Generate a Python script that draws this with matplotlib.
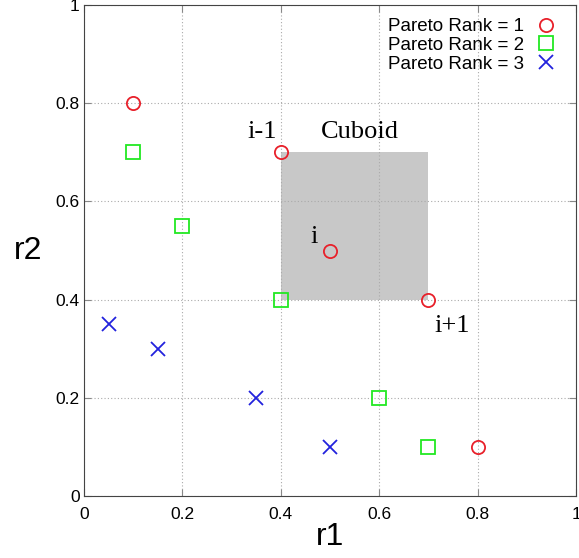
import matplotlib.pyplot as plt
from matplotlib.patches import Rectangle

# Pareto front points (r1, r2)
rank1_r1 = [0.1, 0.4, 0.5, 0.7, 0.8]
rank1_r2 = [0.8, 0.7, 0.5, 0.4, 0.1]
rank2_r1 = [0.1, 0.2, 0.4, 0.6, 0.7]
rank2_r2 = [0.7, 0.55, 0.4, 0.2, 0.1]
rank3_r1 = [0.05, 0.15, 0.35, 0.5]
rank3_r2 = [0.35, 0.3, 0.2, 0.1]

# cuboid spanned by neighbours i-1 and i+1
cuboid_lo = (0.4, 0.4)
cuboid_hi = (0.7, 0.7)

ticks = [0, 0.2, 0.4, 0.6, 0.8, 1]
tick_labels = ['0', '0.2', '0.4', '0.6', '0.8', '1']

plt.rcParams['font.family'] = ['Liberation Sans', 'DejaVu Sans']

fig = plt.figure(figsize=(5.79, 5.58), dpi=100)
ax = fig.add_axes([0.145, 0.111, 0.85, 0.880])

ax.add_patch(Rectangle(cuboid_lo, cuboid_hi[0] - cuboid_lo[0], cuboid_hi[1] - cuboid_lo[1],
                       facecolor='#c8c8c8', edgecolor='none', zorder=1))

ax.plot(rank1_r1, rank1_r2, 'o', mfc='none', mec='#e8202a', ms=9.5, mew=1.3,
        ls='none', label='Pareto Rank = 1', zorder=3)
ax.plot(rank2_r1, rank2_r2, 's', mfc='none', mec='#22e822', ms=9.5, mew=1.3,
        ls='none', label='Pareto Rank = 2', zorder=3)
ax.plot(rank3_r1, rank3_r2, 'x', color='#2222dd', ms=10, mew=1.3,
        ls='none', label='Pareto Rank = 3', zorder=3)

serif = ['Liberation Serif', 'DejaVu Serif']
ax.text(0.561, 0.73, 'Cuboid', family=serif, fontsize=19, ha='center', va='baseline')
ax.text(0.362, 0.73, 'i-1', family=serif, fontsize=19, ha='center', va='baseline')
ax.text(0.468, 0.516, 'i', family=serif, fontsize=19, ha='center', va='baseline')
ax.text(0.748, 0.335, 'i+1', family=serif, fontsize=19, ha='center', va='baseline')

ax.set_xlim(0, 1)
ax.set_ylim(0, 1)
ax.set_xticks(ticks)
ax.set_xticklabels(tick_labels)
ax.set_yticks(ticks)
ax.set_yticklabels(tick_labels)
ax.tick_params(direction='in', top=True, right=True, length=5, color='#888888',
               labelsize=12.5)
ax.tick_params(axis='x', pad=8)
ax.tick_params(axis='y', pad=3)
ax.grid(True, ls=(0, (1, 2)), color='#aaaaaa', lw=0.8)
for sp in ax.spines.values():
    sp.set_color('#444444')

ax.set_xlabel('r1', fontsize=23, labelpad=0)
ax.set_ylabel('r2', fontsize=23, rotation=0, labelpad=20, va='center')

leg = ax.legend(loc='upper right', markerfirst=False, frameon=False, fontsize=13.5,
                handlelength=1.0, handletextpad=0.7, labelspacing=0.08,
                borderaxespad=0.5, borderpad=0.2, bbox_to_anchor=(0.985, 1.0))

fig.savefig('out.png', dpi=100)
